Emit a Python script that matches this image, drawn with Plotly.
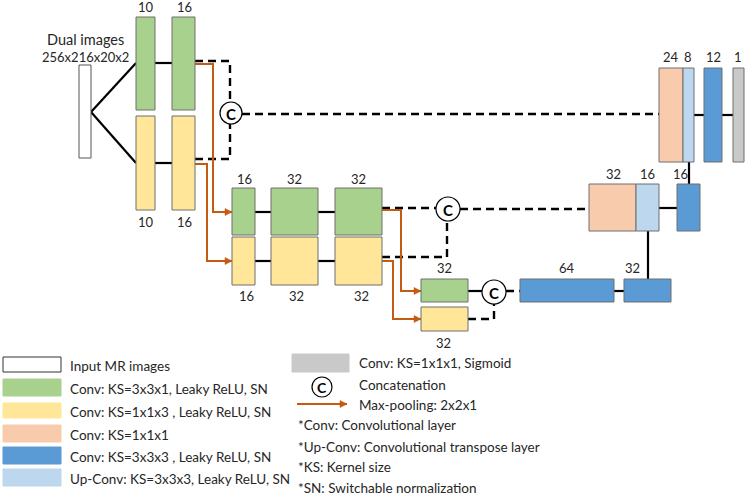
import plotly.graph_objects as go

# Channel counts printed next to each block
enc_top = ["10", "16"]
enc_bottom = ["10", "16"]
lvl2_top = ["16", "32", "32"]
lvl2_bottom = ["16", "32", "32"]
lvl3_top = ["32"]
lvl3_bottom = ["32"]
bottleneck = ["64", "32"]
dec2 = ["32", "16", "16"]
dec1 = ["24", "8", "12", "1"]
input_title = ["Dual images", "256x216x20x2"]

legend_left = ["Input MR images", "Conv: KS=3x3x1, Leaky ReLU, SN", "Conv: KS=1x1x3 , Leaky ReLU, SN",
               "Conv: KS=1x1x1", "Conv: KS=3x3x3 , Leaky ReLU, SN", "Up-Conv: KS=3x3x3, Leaky ReLU, SN"]
legend_right = ["Conv: KS=1x1x1, Sigmoid", "Concatenation", "Max-pooling: 2x2x1"]
notes = ["*Conv: Convolutional layer", "*Up-Conv: Convolutional transpose layer",
         "*KS: Kernel size", "*SN: Switchable normalization"]

# Colours
WHITE = "#FFFFFF"
GREEN = "#A9D18E"
YELLOW = "#FFE699"
PEACH = "#F8CBAD"
BLUE = "#5B9BD5"
LBLUE = "#BDD7EE"
GRAY = "#C9C9C9"
ORANGE = "#C55A11"
EDGE = "#6E6E6E"
TXT = "#262626"
FONT = "Lato, Open Sans, sans-serif"

shapes = []
annotations = []


def box(x0, x1, y0, y1, color, edge=EDGE, lw=1):
    shapes.append(dict(type="rect", x0=x0, x1=x1, y0=y0, y1=y1, fillcolor=color,
                       line=dict(color=edge, width=lw), layer="above"))


def line(pts, color="black", width=2.2, dash="solid"):
    path = "M" + " L".join(f"{x},{y}" for x, y in pts)
    shapes.append(dict(type="path", path=path, line=dict(color=color, width=width, dash=dash),
                       layer="below"))


def dashed(pts):
    line(pts, width=2.4, dash="8px,5px")


def arrow(pts):
    line(pts, color=ORANGE, width=2)
    x, y = pts[-1]
    shapes.append(dict(type="path", path=f"M{x},{y} L{x-7},{y-3.5} L{x-7},{y+3.5} Z",
                       fillcolor=ORANGE, line=dict(color=ORANGE, width=0.5), layer="above"))


def circle(cx, cy, r, size=15):
    shapes.append(dict(type="circle", x0=cx - r, x1=cx + r, y0=cy - r, y1=cy + r,
                       fillcolor=WHITE, line=dict(color="black", width=1.2), layer="above"))
    annotations.append(dict(x=cx, y=cy + 0.5, text="<b>C</b>", showarrow=False,
                            font=dict(family=FONT, size=size, color="black")))


def label(x, y, text, size=13, xanchor="center"):
    annotations.append(dict(x=x, y=y, text=text, showarrow=False, xanchor=xanchor,
                            yanchor="middle", font=dict(family=FONT, size=size, color=TXT)))


# ---- connections (drawn under the blocks)
line([(91, 112), (136, 63)])
line([(91, 112), (136, 163)])
line([(155, 63), (172, 63)])
line([(155, 163), (172, 163)])
line([(255, 212), (271, 212)])
line([(318, 212), (335, 212)])
line([(255, 261), (271, 261)])
line([(318, 261), (335, 261)])
line([(468, 291), (484, 291)])
line([(614, 291), (624, 291)])
line([(648, 279), (648, 231)])
line([(659, 208), (677, 208)])
line([(689, 184), (689, 162)])
line([(694, 115), (704, 115)])
line([(722, 115), (733, 115)])

dashed([(195, 61), (230, 61), (230, 103)])
dashed([(195, 159), (230, 159), (230, 124)])
dashed([(242, 114), (659, 114)])
dashed([(382, 208), (436, 208)])
dashed([(382, 257), (447, 257), (447, 221)])
dashed([(460, 209), (589, 209)])
dashed([(506, 291), (520, 291)])
dashed([(468, 319), (494, 319), (494, 304)])

arrow([(195, 64), (213, 64), (213, 212), (232, 212)])
arrow([(195, 164), (207, 164), (207, 261), (232, 261)])
arrow([(382, 210), (401, 210), (401, 291), (421, 291)])
arrow([(382, 261), (393, 261), (393, 319), (421, 319)])

# ---- blocks
box(79, 91, 65, 158, WHITE, edge="#555555")
box(136, 155, 17, 110, GREEN)
box(172, 195, 17, 110, GREEN)
box(136, 155, 116, 210, YELLOW)
box(172, 195, 116, 210, YELLOW)
box(232, 255, 188, 235, GREEN)
box(271, 318, 188, 235, GREEN)
box(335, 382, 188, 235, GREEN)
box(232, 255, 237, 285, YELLOW)
box(271, 318, 237, 285, YELLOW)
box(335, 382, 237, 285, YELLOW)
box(421, 468, 279, 302, GREEN)
box(421, 468, 307, 331, YELLOW)
box(520, 614, 279, 302, BLUE)
box(624, 671, 279, 302, BLUE)
box(589, 636, 184, 231, PEACH)
box(636, 659, 184, 231, LBLUE)
box(677, 700, 184, 231, BLUE)
box(659, 683, 68, 162, PEACH)
box(683, 694, 68, 162, LBLUE)
box(704, 722, 68, 162, BLUE)
box(733, 744, 68, 162, GRAY)

circle(231, 113, 11)
circle(448, 209, 12)
circle(494, 292, 12)

# ---- channel labels
for t, x in zip(enc_top, [146, 184]):
    label(x, 7, t)
for t, x in zip(enc_bottom, [146, 184]):
    label(x, 222, t)
for t, x in zip(lvl2_top, [244, 294, 358]):
    label(x, 179, t)
for t, x in zip(lvl2_bottom, [246, 296, 361]):
    label(x, 296, t)
label(444, 268, lvl3_top[0])
label(443, 343, lvl3_bottom[0])
for t, x in zip(bottleneck, [567, 632]):
    label(x, 268, t)
for t, x in zip(dec2, [613, 647, 680]):
    label(x, 174, t)
for t, x in zip(dec1, [671, 688, 713, 738]):
    label(x, 57, t)
label(85, 39, input_title[0], size=14.5)
label(85, 57, input_title[1], size=13)

# ---- legend
sw_rows = [(357, 372), (379, 396), (403, 418), (425, 442), (447, 464), (469, 486)]
sw_cols = [WHITE, GREEN, YELLOW, PEACH, BLUE, LBLUE]
for (y0, y1), c, t in zip(sw_rows, sw_cols, legend_left):
    if c == WHITE:
        box(3, 61, y0, y1, c, edge="#333333")
    else:
        box(3, 61, y0, y1, c, edge=c)
    label(68, (y0 + y1) / 2 + 1, t, size=13.5, xanchor="left")

box(292, 349, 354, 372, GRAY, edge=GRAY)
label(357, 363, legend_right[0], size=13.5, xanchor="left")
circle(322, 387, 10, size=14)
label(357, 385, legend_right[1], size=13.5, xanchor="left")
arrow([(297, 404), (347, 404)])
label(357, 405, legend_right[2], size=13.5, xanchor="left")
for t, y in zip(notes, [425, 447, 467, 488]):
    label(296, y, t, size=13.5, xanchor="left")

fig = go.Figure()
fig.update_layout(width=746, height=495, margin=dict(l=0, r=0, t=0, b=0),
                  paper_bgcolor="white", plot_bgcolor="white",
                  shapes=shapes, annotations=annotations, showlegend=False)
fig.update_xaxes(range=[0, 746], visible=False, fixedrange=True)
fig.update_yaxes(range=[495, 0], visible=False, fixedrange=True)

# drop the default page margin so the figure sits at the window corner
fig.write_html("out.html", config={"displayModeBar": False},
               post_script="document.body.style.margin='0';document.body.style.overflow='hidden';")
